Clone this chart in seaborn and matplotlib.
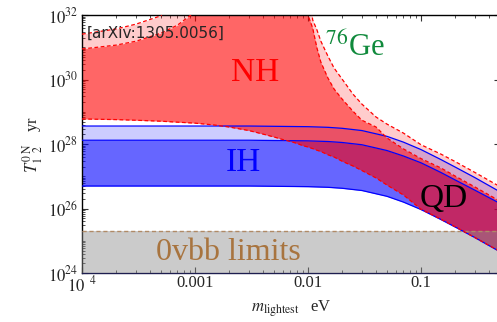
import numpy as np
import pandas as pd
import matplotlib
matplotlib.use("Agg")
import matplotlib.pyplot as plt
import matplotlib.ticker as mticker
import seaborn as sns

# data (log10 of half-life in yr)
# NH grid of lightest mass (eV)
m_nh = [1e-4, 2e-4, 3e-4, 5e-4, 7e-4, 1e-3, 1.5e-3, 2e-3, 3e-3, 4e-3, 5e-3, 6e-3,
        7e-3, 8e-3, 9e-3, 0.01, 0.011, 0.012, 0.013, 0.015, 0.017, 0.02, 0.025,
        0.03, 0.04, 0.05, 0.07, 0.1, 0.15, 0.2, 0.3, 0.5]
# outer (3 sigma) upper edge of NH, 33 = off the top
nh_outer_top = [31.41, 31.57, 31.72, 31.98, 33, 33, 33, 33, 33, 33, 33, 33,
                33, 33, 33, 33, 31.85, 31.54, 31.19, 30.73, 30.36, 30.02, 29.55,
                29.24, 28.84, 28.62, 28.34, 27.98, 27.69, 27.46, 27.12, 26.68]
# inner (best fit) upper edge of NH
nh_inner_top = [30.95, 31.07, 31.19, 31.44, 31.69, 32.1, 33, 33, 33, 33, 33, 33,
                33, 33, 33, 32.0, 31.60, 30.98, 30.54, 30.05, 29.71, 29.40, 29.02,
                28.74, 28.53, 28.19, 27.85, 27.55, 27.26, 27.01, 26.67, 26.23]
# lower edge of NH
nh_bottom = [28.78, 28.76, 28.74, 28.71, 28.68, 28.65, 28.59, 28.53, 28.42, 28.31,
             28.22, 28.14, 28.08, 28.02, 27.95, 27.91, 27.86, 27.81, 27.77, 27.67,
             27.60, 27.47, 27.32, 27.18, 26.95, 26.73, 26.42, 25.98, 25.67, 25.44,
             25.10, 24.67]

# IH grid
m_ih = [1e-4, 1e-3, 3e-3, 0.01, 0.015, 0.02, 0.03, 0.05, 0.07, 0.1, 0.15, 0.2, 0.3, 0.5]
ih_outer_top = [28.56, 28.56, 28.56, 28.54, 28.52, 28.49, 28.42, 28.24, 28.06, 27.83,
                27.52, 27.29, 26.96, 26.52]
ih_inner_top = [28.12, 28.12, 28.12, 28.10, 28.08, 28.05, 27.98, 27.80, 27.63, 27.42,
                27.12, 26.89, 26.57, 26.16]
ih_bottom = [26.70, 26.70, 26.70, 26.68, 26.66, 26.63, 26.56, 26.38, 26.20, 25.97,
             25.66, 25.43, 25.10, 24.66]

# experimental 0vbb limit
limit_log = 25.30

xlims = [1e-4, 0.5]
ylims = [1e24, 1e32]
xticks = [1e-4, 1e-3, 1e-2, 1e-1]
xticklabels = [r"$10^{\ \ 4}$", "0.001", "0.01", "0.1"]
yticks = [1e24, 1e26, 1e28, 1e30, 1e32]
yticklabels = [r"$10^{24}$", r"$10^{26}$", r"$10^{28}$", r"$10^{30}$", r"$10^{32}$"]

nh = pd.DataFrame({"m": m_nh,
                   "outer": 10.0 ** np.array(nh_outer_top),
                   "inner": 10.0 ** np.array(nh_inner_top),
                   "bottom": 10.0 ** np.array(nh_bottom)})
ih = pd.DataFrame({"m": m_ih,
                   "outer": 10.0 ** np.array(ih_outer_top),
                   "inner": 10.0 ** np.array(ih_inner_top),
                   "bottom": 10.0 ** np.array(ih_bottom)})

sns.set_style("ticks")
plt.rcParams["font.family"] = ["Liberation Serif", "DejaVu Serif"]
plt.rcParams["mathtext.fontset"] = "stix"

fig = plt.figure(figsize=(4.97, 3.22), dpi=100)
ax = fig.add_axes([0.165, 0.152, 0.841, 0.801])
ax.set_xscale("log")
ax.set_yscale("log")

# IH bands
ax.fill_between(ih["m"], ih["inner"], ih["outer"], color="blue", alpha=0.2, lw=0, zorder=1)
ax.fill_between(ih["m"], ih["bottom"], ih["inner"], color="blue", alpha=0.6, lw=0, zorder=1)
# NH bands
ax.fill_between(nh["m"], nh["inner"], nh["outer"], color="red", alpha=0.2, lw=0, zorder=2)
ax.fill_between(nh["m"], nh["bottom"], nh["inner"], color="red", alpha=0.6, lw=0, zorder=2)

# limits band
ax.fill_between(xlims, [ylims[0]] * 2, [10.0 ** limit_log] * 2, color="#8c8c8c",
                alpha=0.45, lw=0, zorder=3)
ax.axhline(10.0 ** limit_log, color="#b08a66", lw=1.0, ls=(0, (3, 2)), zorder=4)

# boundary lines
for col in ["outer", "inner", "bottom"]:
    sns.lineplot(data=ih, x="m", y=col, ax=ax, color="blue", lw=0.9, zorder=5)
for col in ["outer", "inner", "bottom"]:
    sns.lineplot(data=nh, x="m", y=col, ax=ax, color="red", lw=0.9,
                 linestyle=(0, (3, 2)), zorder=6)

ax.set_xlim(xlims)
ax.set_ylim(ylims)

ax.xaxis.set_major_locator(mticker.FixedLocator(xticks))
ax.xaxis.set_major_formatter(mticker.FixedFormatter(xticklabels))
ax.yaxis.set_major_locator(mticker.FixedLocator(yticks))
ax.yaxis.set_major_formatter(mticker.FixedFormatter(yticklabels))
ax.xaxis.set_minor_locator(mticker.LogLocator(base=10, subs=np.arange(2, 10), numticks=20))
ax.yaxis.set_minor_locator(mticker.LogLocator(base=10, subs=np.arange(1, 10), numticks=20))
ax.xaxis.set_minor_formatter(mticker.NullFormatter())
ax.yaxis.set_minor_formatter(mticker.NullFormatter())
ax.tick_params(which="both", direction="in", top=True, right=True, color="#333333")
ax.tick_params(which="major", length=4, width=0.8, labelsize=12)
ax.tick_params(which="minor", length=2, width=0.6)
ax.tick_params(axis="x", pad=1.5)
ax.tick_params(axis="y", pad=3)
for s in ax.spines.values():
    s.set_linewidth(1.0)
    s.set_color("black")
ax.spines["bottom"].set_color("#1e1e50")

ax.set_xlabel(r"$m_{\mathrm{lightest}}$   eV", fontsize=12, labelpad=2)
ax.set_ylabel(r"$T^{0\ \mathrm{N}}_{1\ \ 2}$   yr", fontsize=12, labelpad=2)

# labels
ax.text(0.012, 0.93, "[arXiv:1305.0056]", transform=ax.transAxes, fontsize=11,
        family="DejaVu Sans", va="center", ha="left", zorder=10)
ax.text(0.414, 0.775, "NH", transform=ax.transAxes, fontsize=24, color="red",
        ha="center", va="center", zorder=10)
ax.text(0.385, 0.426, "IH", transform=ax.transAxes, fontsize=24, color="blue",
        ha="center", va="center", zorder=10)
ax.text(0.866, 0.287, "QD", transform=ax.transAxes, fontsize=24, color="black",
        ha="center", va="center", zorder=10)
ax.text(0.653, 0.876, r"$^{76}$Ge", transform=ax.transAxes, fontsize=22,
        color="#108a3c", ha="center", va="center", zorder=10)
ax.text(0.349, 0.078, "0vbb limits", transform=ax.transAxes, fontsize=23,
        color="#a8743f", ha="center", va="center", zorder=10)

fig.savefig("out.png", dpi=100)
